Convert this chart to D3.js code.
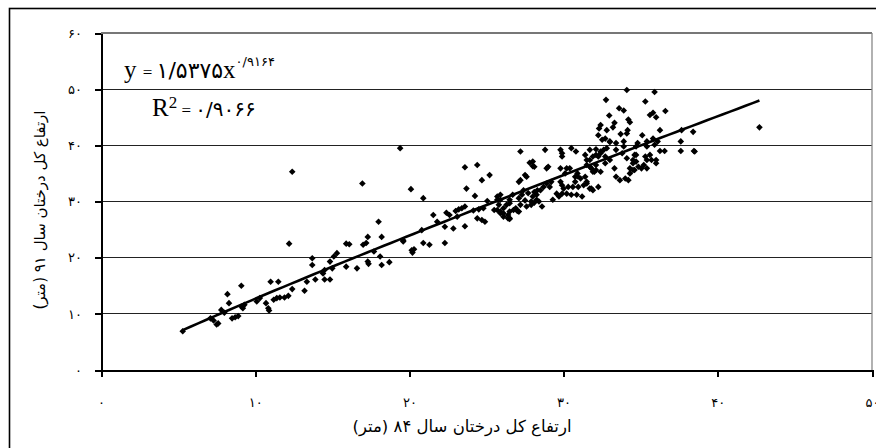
<!DOCTYPE html>
<head>
  <meta charset="utf-8">
  <style>
    body { margin: 0; background: #fff; }
    .axis path, .axis line { stroke: #000; shape-rendering: crispEdges; }
    .axis text { font-family: "DejaVu Sans", sans-serif; font-size: 13px; fill: #000; }
    .title { font-family: "DejaVu Sans", sans-serif; fill: #000; }
    .eq { font-family: "Liberation Serif", "DejaVu Serif", serif; font-size: 25px; fill: #000; }
    .eq .fa { font-family: "DejaVu Sans", sans-serif; }
  </style>
  <script src="https://cdn.jsdelivr.net/npm/d3@7"></script>
</head>
<body>
  <script>
    // Width and height
    var w = 876;
    var h = 448;

    // tree heights: [height 1384, height 1391] (m)
    var trees = [
      [5.3,6.9],[7.1,9.2],[7.3,8.8],[7.6,8.3],[7.5,8.1],[7.8,10.7],[8.0,10.2],[8.3,11.9],[8.2,13.5],[9.1,15.0],
      [8.5,9.2],[8.7,9.4],[8.9,9.6],[9.1,11.3],[9.3,11.6],[9.2,11.0],[10.1,12.2],[10.3,12.8],[10.7,11.9],[10.85,11.0],
      [10.9,10.6],[11.0,15.7],[11.5,15.7],[11.2,12.5],[11.4,12.8],[11.6,12.9],[11.9,12.9],[12.15,13.2],[12.4,14.4],[12.2,22.5],
      [12.4,35.3],[13.2,14.1],[13.35,15.7],[13.7,19.9],[13.7,18.7],[13.9,16.1],[14.4,17.2],[14.5,17.8],[14.5,16.1],[14.85,16.1],
      [14.85,19.3],[15.1,20.2],[15.3,20.8],[15.0,18.1],[15.9,22.5],[15.9,18.4],[16.6,18.1],[16.1,22.4],
      [16.95,33.2],[17.0,22.3],[17.2,22.6],[17.3,23.7],[17.7,21.1],[18.1,20.2],[17.3,19.3],[17.35,18.9],[18.2,18.7],[18.7,19.2],
      [18.0,26.4],[18.2,23.7],[19.4,39.5],[19.6,23.1],[19.6,22.9],[20.2,20.9],[20.15,21.3],[20.3,21.5],[20.1,32.2],[20.9,30.6],
      [20.8,24.9],[20.9,22.6],[21.3,22.3],[21.55,27.6],[21.8,26.4],[22.3,22.6],
      [22.4,28.0],[22.6,27.6],[22.3,25.5],[22.85,25.2],[23.0,28.3],[23.2,28.6],[23.4,28.8],[23.6,29.1],[23.1,27.3],[23.6,25.6],
      [23.6,36.1],[24.4,36.5],[24.7,33.8],[25.2,34.7],[23.7,32.3],[24.25,31.0],[24.15,28.4],[24.5,28.6],[24.8,28.8],[24.4,27.0],
      [24.7,26.7],[24.9,26.4],[25.05,30.1],[25.7,30.9],[25.9,30.3],[25.7,28.5],[25.9,28.2],[26.1,28.8],[26.3,29.4],[26.5,29.7],
      [26.4,27.6],[26.5,27.0],[26.75,28.5],[27.0,28.3],[27.1,28.2],[26.1,27.9],[26.5,26.9],
      [25.9,31.2],[25.7,30.3],[25.8,29.4],[25.5,28.5],[25.9,27.9],[26.1,27.3],[26.4,27.0],[26.5,28.2],[26.9,28.8],[27.2,29.4],
      [27.6,29.1],[27.9,29.4],[28.25,30.3],[28.6,29.1],[27.4,32.0],[27.7,31.5],[27.3,31.2],[27.1,30.6],[26.7,31.2],[26.5,30.3],
      [27.5,30.2],[27.9,30.0],[28.1,29.8],[28.4,30.0],[28.3,32.0],
      [27.2,38.9],[27.8,36.9],[28.1,36.2],[27.6,34.4],[27.1,33.5],[27.5,34.7],[27.2,33.8],[28.0,37.1],[28.0,36.3],[29.0,36.2],
      [28.8,39.2],[29.8,39.2],[29.9,38.6],[29.9,38.0],[30.5,39.5],[30.8,38.9],
      [28.9,33.2],[29.1,32.6],[29.2,33.5],[28.7,32.6],[28.5,32.0],[28.25,31.2],[28.1,31.7],[28.0,30.9],
      [29.8,33.5],[29.9,32.9],[30.0,32.3],[30.3,32.6],[30.6,32.6],[30.95,32.6],[31.3,32.9],[31.5,33.5],[31.4,34.4],[31.1,34.1],
      [30.75,33.5],[31.7,32.3],[31.9,32.0],[32.25,32.6],
      [29.55,31.4],[29.9,31.4],[30.2,31.4],[30.5,31.2],[30.85,31.2],[31.2,30.9],[29.7,30.9],[29.3,30.3],
      [30.2,35.9],[30.4,35.9],[30.1,35.0],[30.9,35.0],[30.9,34.5],[28.9,35.9],[29.8,35.9],[30.75,34.4],
      [31.7,37.4],[31.9,38.0],[32.1,38.3],[32.4,38.6],[32.6,39.2],[32.8,39.5],[31.5,36.5],[31.7,36.2],[32.1,35.6],[32.4,35.3],
      [31.9,35.3],[32.0,35.3],[32.1,36.5],[31.8,35.9],[32.7,36.8],[33.0,37.4],[32.25,38.0],[32.7,38.0],[31.5,37.4],[31.4,38.3],
      [31.7,39.2],[32.1,39.3],[32.4,38.9],[31.8,32.3],[31.5,33.2],
      [33.3,35.9],[33.4,34.4],[34.0,34.1],[34.3,35.0],[34.5,35.6],[34.85,36.2],[35.2,36.5],[35.4,37.4],[34.5,37.4],[34.7,38.3],
      [35.6,38.3],[36.0,37.4],[35.9,40.1],[35.4,39.8],[34.7,39.8],[33.9,39.8],[33.4,40.4],[33.0,40.6],
      [33.4,39.2],[33.8,38.6],[34.1,37.7],[34.6,38.3],[34.7,37.1],[34.5,36.8],[34.3,35.9],[34.6,35.6],[35.05,35.9],[35.4,35.9],
      [35.3,38.0],[35.7,37.4],[36.0,36.8],[33.65,33.8],[34.2,33.8],
      [34.1,49.85],[35.9,49.5],[32.75,48.1],[35.3,47.8],[33.6,46.6],[33.9,46.2],[36.6,46.1],[35.8,45.8],[35.6,45.4],[32.96,45.3],
      [36.0,45.0],[34.2,44.6],[34.3,44.1],[33.3,44.0],[33.2,43.2],[32.4,43.6],[32.3,43.0],[32.8,42.7],[34.15,42.7],[34.1,42.1],
      [36.25,42.7],[33.7,42.0],[32.25,41.8],[32.7,41.2],[33.0,40.7],[32.5,41.0],[33.9,40.7],[35.1,41.8],[34.8,40.4],[35.4,40.7],
      [35.8,41.2],[36.1,40.7],[37.65,42.7],[38.4,42.4],[37.6,40.7],[37.6,39.0],[38.45,39.0],[36.25,39.0],[36.55,39.0],[38.5,38.9],
      [42.7,43.2]
    ];

    var xTicks = [0, 10, 20, 30, 40, 50];
    var yTicks = [0, 10, 20, 30, 40, 50, 60];

    // power trend y = a * x^b
    var trendA = 1.5375;
    var trendB = 0.9164;
    var trendRange = [5.3, 42.7];

    var xTitle = "ارتفاع کل درختان سال ۸۴ (متر)";
    var yTitle = "ارتفاع کل درختان سال ۹۱ (متر)";

    var faDigits = "۰۱۲۳۴۵۶۷۸۹";
    function fa(v) {
      return String(v).replace(/\d/g, function(c) { return faDigits[+c]; });
    }

    var xScale = d3.scaleLinear().domain([0, 50]).range([101, 872]);
    var yScale = d3.scaleLinear().domain([0, 60]).range([370, 33]);

    var svg = d3.select("body")
                .append("svg")
                .attr("width", w)
                .attr("height", h);

    // outer frame (runs off the picture on right and bottom)
    svg.append("rect")
       .attr("x", 9.5).attr("y", 8.5)
       .attr("width", 900).attr("height", 480)
       .attr("fill", "none")
       .attr("stroke", "#000")
       .attr("stroke-width", 1.6);

    // grid lines
    svg.selectAll("line.grid")
       .data(yTicks.slice(1))
       .enter()
       .append("line")
       .attr("class", "grid")
       .attr("x1", xScale(0))
       .attr("x2", xScale(50))
       .attr("y1", function(d) { return yScale(d); })
       .attr("y2", function(d) { return yScale(d); })
       .attr("stroke", function(d) { return d === 60 ? "#777" : "#222"; })
       .attr("stroke-width", 1.3)
       .attr("shape-rendering", "crispEdges");

    // right border of plot
    svg.append("line")
       .attr("x1", xScale(50)).attr("x2", xScale(50))
       .attr("y1", yScale(60)).attr("y2", yScale(0))
       .attr("stroke", "#888")
       .attr("stroke-width", 1.3);

    // axes
    svg.append("g")
       .attr("class", "axis")
       .attr("transform", "translate(0," + yScale(0) + ")")
       .call(d3.axisBottom(xScale).tickValues(xTicks).tickSize(7).tickSizeOuter(0).tickPadding(21).tickFormat(fa))
       .call(function(g) { g.selectAll("path, line").attr("stroke-width", 2); });

    svg.append("g")
       .attr("class", "axis")
       .attr("transform", "translate(" + xScale(0) + ",0)")
       .call(d3.axisLeft(yScale).tickValues(yTicks).tickSize(6).tickSizeOuter(0).tickPadding(13).tickFormat(fa))
       .call(function(g) { g.selectAll("path, line").attr("stroke-width", 2); });

    // points
    svg.selectAll("path.pt")
       .data(trees)
       .enter()
       .append("path")
       .attr("class", "pt")
       .attr("d", "M0,-3.3L3.3,0L0,3.3L-3.3,0Z")
       .attr("transform", function(d) {
         return "translate(" + xScale(d[0]) + "," + yScale(d[1]) + ")";
       })
       .attr("fill", "#000");

    // trend line
    var trendX = d3.range(trendRange[0], trendRange[1], 0.5).concat([trendRange[1]]);
    var line = d3.line()
                 .x(function(d) { return xScale(d); })
                 .y(function(d) { return yScale(trendA * Math.pow(d, trendB)); });
    svg.append("path")
       .datum(trendX)
       .attr("d", line)
       .attr("fill", "none")
       .attr("stroke", "#000")
       .attr("stroke-width", 2.6);

    // equation
    var eq = svg.append("text").attr("class", "eq").attr("x", 124).attr("y", 78).attr("direction", "ltr");
    eq.append("tspan").text("y ");
    eq.append("tspan").attr("font-size", 17).text("= ");
    eq.append("tspan").attr("class", "fa").attr("font-size", 22).text(fa("1/5375"));
    eq.append("tspan").text("x");
    eq.append("tspan").attr("class", "fa").attr("font-size", 13).attr("dy", -12).text(fa("0/9164"));

    var r2 = svg.append("text").attr("class", "eq").attr("x", 152).attr("y", 116).attr("direction", "ltr");
    r2.append("tspan").text("R");
    r2.append("tspan").attr("font-size", 17).attr("dy", -8).text("2");
    r2.append("tspan").attr("font-size", 17).attr("dy", 8).text(" = ");
    r2.append("tspan").attr("class", "fa").attr("font-size", 20).text(fa("0/9066"));

    // axis titles
    svg.append("text")
       .attr("class", "title")
       .attr("x", 462).attr("y", 432)
       .attr("font-size", 16.5)
       .attr("text-anchor", "middle")
       .attr("direction", "rtl")
       .text(xTitle);

    svg.append("text")
       .attr("class", "title")
       .attr("font-size", 15)
       .attr("transform", "translate(45,210) rotate(-90)")
       .attr("text-anchor", "middle")
       .attr("direction", "rtl")
       .text(yTitle);
  </script>
</body>
